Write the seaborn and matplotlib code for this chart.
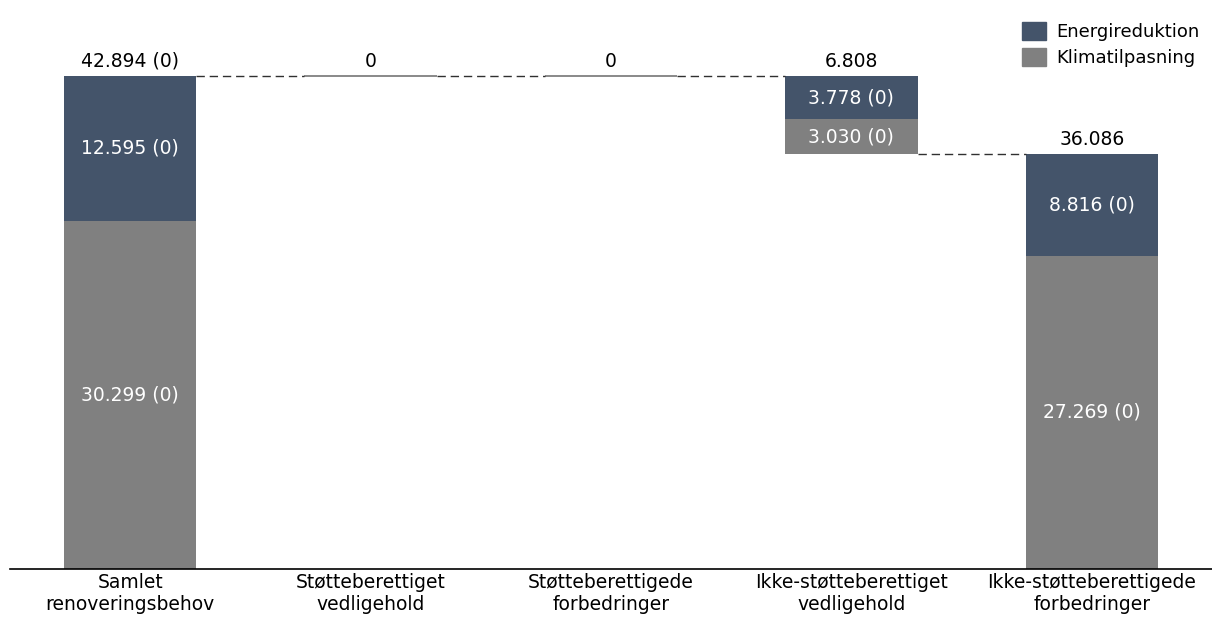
import matplotlib.pyplot as plt
import seaborn as sns
import pandas as pd

categories = ["Samlet\nrenoveringsbehov", "Støtteberettiget\nvedligehold",
              "Støtteberettigede\nforbedringer", "Ikke-støtteberettiget\nvedligehold",
              "Ikke-støtteberettigede\nforbedringer"]
klima = [30299, 0, 0, 3030, 27269]
energi = [12595, 0, 0, 3778, 8816]
base = [0, 42894, 42894, 36086, 0]
totals = ["42.894 (0)", "0", "0", "6.808", "36.086"]
klima_labels = ["30.299 (0)", "", "", "3.030 (0)", "27.269 (0)"]
energi_labels = ["12.595 (0)", "", "", "3.778 (0)", "8.816 (0)"]

BLUE = "#44546a"
GREY = "#808080"

df = pd.DataFrame({"cat": categories, "klima": klima, "energi": energi, "base": base})
df["mid"] = df["base"] + df["klima"]
df["top"] = df["mid"] + df["energi"]

sns.set_style("white")
plt.rcParams["font.family"] = ["DejaVu Sans"]
plt.rcParams["text.color"] = "black"
plt.rcParams["xtick.color"] = "black"

fig = plt.figure(figsize=(12.12, 6.17), dpi=100)
ax = fig.add_axes([10 / 1212, 48 / 617, 1202 / 1212, 569 / 617])

width = 0.55
sns.barplot(data=df, x="cat", y="klima", bottom=df["base"], color=GREY,
            width=width, saturation=1, ax=ax, linewidth=0)
sns.barplot(data=df, x="cat", y="energi", bottom=df["mid"], color=BLUE,
            width=width, saturation=1, ax=ax, linewidth=0)

fs = 13.5
for i, row in df.iterrows():
    if row["klima"] + row["energi"] == 0:
        ax.hlines(row["top"], i - width / 2, i + width / 2, color=GREY, lw=1.3)
    ax.text(i, row["top"] + 450, totals[i], ha="center", va="bottom", fontsize=fs, color="black")
    if klima_labels[i]:
        ax.text(i, row["base"] + row["klima"] / 2, klima_labels[i], ha="center", va="center",
                fontsize=fs, color="white")
    if energi_labels[i]:
        ax.text(i, row["mid"] + row["energi"] / 2, energi_labels[i], ha="center", va="center",
                fontsize=fs, color="white")

# connectors: first three steps stay at the total, last drops to the remaining total
for i in range(len(df) - 1):
    level = df["top"][i] if i < 3 else df["base"][i]
    ax.hlines(level, i + width / 2, i + 1 - width / 2, color="#303030", lw=1,
              linestyles=(0, (6, 3.5)))

ax.set_xlim(-0.5, 4.5)
ax.set_ylim(0, 49500)
ax.set_xlabel("")
ax.set_ylabel("")
ax.set_yticks([])
ax.tick_params(axis="x", length=0, labelsize=fs, pad=3)
for s in ["top", "right", "left"]:
    ax.spines[s].set_visible(False)
ax.spines["bottom"].set_color("black")
ax.spines["bottom"].set_linewidth(1.2)

handles = [plt.Rectangle((0, 0), 1, 1, color=BLUE), plt.Rectangle((0, 0), 1, 1, color=GREY)]
fig.legend(handles, ["Energireduktion", "Klimatilpasning"], loc="upper right",
           bbox_to_anchor=(1.003, 0.99), frameon=False, fontsize=13,
           handlelength=1.35, handleheight=1.15, handletextpad=0.55, labelspacing=0.35)

fig.savefig("out.png", dpi=100)
